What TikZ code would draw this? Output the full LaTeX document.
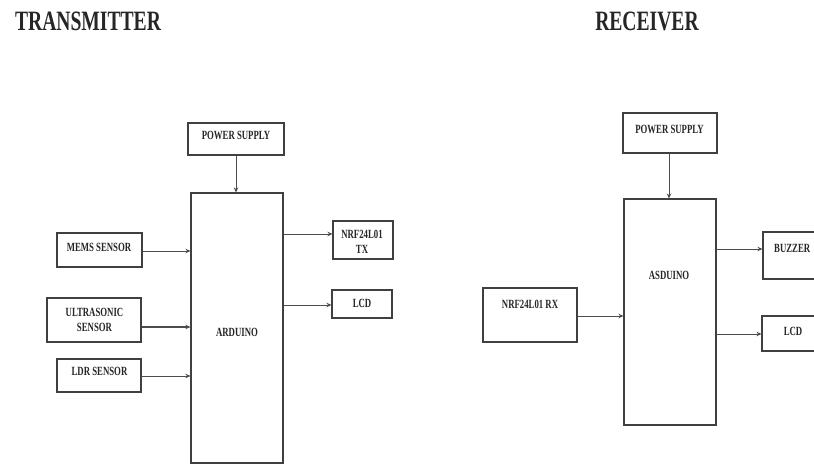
\documentclass[tikz,border=0pt]{standalone}
\usepackage{fontspec}
\setmainfont{Liberation Serif}[FakeStretch=0.7]
\usetikzlibrary{arrows.meta}
\begin{document}
\begin{tikzpicture}[x=1pt,y=-1pt,
  box/.style={draw=black!75,line width=1.1pt,minimum width=#1,inner sep=0pt},
  lbl/.style={font=\bfseries\fontsize{12.5}{13}\selectfont,text=black!85,inner sep=0pt,align=center},
  ttl/.style={font=\bfseries\fontsize{28}{29}\selectfont,text=black!85,inner sep=0pt},
  conn/.style={draw=black!70,line width=0.9pt,-{Stealth[length=5pt,width=4.5pt]}}]
\useasboundingbox (0,0) rectangle (814,465);
\clip (0,0) rectangle (814,465);
\fill[white] (0,0) rectangle (814,465);
% titles
\node[ttl] (t1) at (88,21) {TRANSMITTER};
\node[ttl] (t2) at (647,21) {RECEIVER};
% transmitter boxes
\node[box=96pt,minimum height=32pt] (ps1) at (236,139) {};
\node[box=92pt,minimum height=270pt] (ard1) at (237,328) {};
\node[box=85pt,minimum height=34pt] (mems) at (99.5,250) {};
\node[box=94pt,minimum height=44pt] (ultra) at (94,320) {};
\node[box=84pt,minimum height=33pt] (ldr) at (99,375.5) {};
\node[box=60pt,minimum height=38pt] (nrftx) at (363,240) {};
\node[box=60pt,minimum height=28pt] (lcd1) at (362,304) {};
% transmitter labels
\node[lbl] (lps1) at (236,135) {POWER SUPPLY};
\node[lbl] (lard1) at (237,332) {ARDUINO};
\node[lbl] (lmems) at (99,247) {MEMS SENSOR};
\node[lbl] (lultra) at (94.5,319.5) {ULTRASONIC\\[2pt]SENSOR};
\node[lbl] (lldr) at (99.5,371) {LDR SENSOR};
\node[lbl] (lnrftx) at (362,241.5) {NRF24L01\\[2pt]TX};
\node[lbl] (llcd1) at (362,303) {LCD};
% transmitter connectors
\draw[conn] (ps1.south) -- (ard1.north -| ps1.south);
\draw[conn] (mems.east |- 0,251) -- (ard1.west |- 0,251);
\draw[conn,line width=1.8pt] (ultra.east |- 0,327) -- (ard1.west |- 0,327);
\draw[conn] (ldr.east |- 0,376) -- (ard1.west |- 0,376);
\draw[conn] (ard1.east |- 0,234) -- (nrftx.west |- 0,234);
\draw[conn] (ard1.east |- 0,305) -- (lcd1.west |- 0,305);
% receiver boxes
\node[box=94pt,minimum height=40pt] (ps2) at (670,133) {};
\node[box=92pt,minimum height=226pt] (ard2) at (670,312) {};
\node[box=94pt,minimum height=54pt] (nrfrx) at (530,315) {};
\node[box=67pt,minimum height=47pt] (buzz) at (796.5,255.5) {};
\node[box=68pt,minimum height=35pt] (lcd2) at (796,333.5) {};
% receiver labels
\node[lbl] (lps2) at (669.5,129) {POWER SUPPLY};
\node[lbl] (lard2) at (669,275) {ASDUINO};
\node[lbl] (lnrfrx) at (530,304) {NRF24L01 RX};
\node[lbl,anchor=west] (lbuzz) at (774,248) {BUZZER};
\node[lbl] (llcd2) at (793,331) {LCD};
% receiver connectors
\draw[conn] (ps2.south -| 669,0) -- (ard2.north -| 669,0);
\draw[conn] (nrfrx.east |- 0,316) -- (ard2.west |- 0,316);
\draw[conn] (ard2.east |- 0,249) -- (buzz.west |- 0,249);
\draw[conn] (ard2.east |- 0,334) -- (lcd2.west |- 0,334);
\end{tikzpicture}
\end{document}
